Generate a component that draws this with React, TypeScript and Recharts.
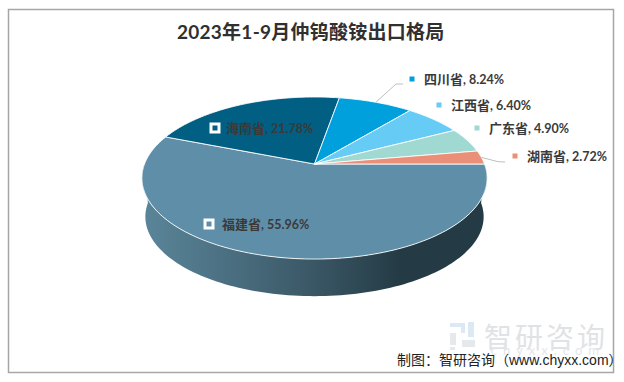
import { PieChart, Pie, Cell } from "recharts";

const provinces = ["福建省", "海南省", "四川省", "江西省", "广东省", "湖南省"];
const shares = [55.96, 21.78, 8.24, 6.4, 4.9, 2.72];
const colors = ["#5F8FA8", "#005F82", "#00A0DC", "#66CCF5", "#A0D8D2", "#EA9079"];

const tableData = provinces.map((name, i) => ({ name, value: shares[i] }));

// marker position of each label
const labelSpots = [
  { x: 209, y: 224, gap: 13 },
  { x: 215, y: 128, gap: 11 },
  { x: 412, y: 79, gap: 12 },
  { x: 439, y: 105, gap: 12 },
  { x: 477, y: 128, gap: 12 },
  { x: 515, y: 156, gap: 12 },
];

const CX = 314.5;
const CY = 164;
const RADIUS = 170;
const SQUASH = 0.4624;
const PERSPECTIVE = 0.173;
const DEPTH = 39;
const BOTTOM_SCALE = 0.98;

const FONT = 'Lato, "Noto Sans CJK SC", sans-serif';

// the pie is a tilted disc, so polar points go through a small perspective
function project(angle: number, cx: number, cy: number, r: number) {
  const rad = (angle * Math.PI) / 180;
  const w = 1 + PERSPECTIVE * Math.sin(rad);
  return {
    x: cx + (r * Math.cos(rad)) / w,
    y: cy - (r * SQUASH * Math.sin(rad)) / w,
  };
}

function arcPoints(from: number, to: number, cx: number, cy: number, r: number) {
  const steps = Math.max(2, Math.ceil(Math.abs(to - from) / 1.5));
  const pts = [];
  for (let i = 0; i <= steps; i++) {
    pts.push(project(from + ((to - from) * i) / steps, cx, cy, r));
  }
  return pts;
}

const toPath = (pts: { x: number; y: number }[]) =>
  pts.map((p, i) => `${i ? "L" : "M"}${p.x.toFixed(2)} ${p.y.toFixed(2)}`).join(" ");

function TiltedSector(props: any) {
  const { cx, cy, outerRadius, startAngle, endAngle, fill } = props;
  const top = arcPoints(startAngle, endAngle, cx, cy, outerRadius);
  const hi = Math.min(startAngle, 0);
  const lo = Math.max(endAngle, -180);
  let side = null;
  if (lo < hi) {
    const upper = arcPoints(hi, lo, cx, cy, outerRadius);
    const lower = arcPoints(lo, hi, cx, cy + DEPTH, outerRadius * BOTTOM_SCALE);
    side = <path d={`${toPath([...upper, ...lower])} Z`} fill="url(#sideShade)" />;
  }
  return (
    <g>
      {side}
      <path
        d={`M${cx} ${cy} ${toPath(top).replace("M", "L")} Z`}
        fill={fill}
        stroke="#fff"
        strokeOpacity={0.85}
        strokeWidth={1}
        strokeLinejoin="round"
      />
    </g>
  );
}

function SliceLabel(props: any) {
  const { cx, cy, outerRadius, midAngle, index } = props;
  const spot = labelSpots[index];
  const edge = project(midAngle, cx, cy, outerRadius);
  let leader = null;
  if (index === 2) {
    leader = `M${edge.x} ${edge.y} L396 84 L403 84`;
  } else if (index === 5) {
    leader = `M${edge.x} ${edge.y} L498 161.7 L505 162`;
  }
  return (
    <g>
      {leader && <path d={leader} fill="none" stroke="#BFBFBF" strokeWidth={1} />}
      <rect x={spot.x - 5.5} y={spot.y - 5.5} width={11} height={11} fill="#fff" />
      <rect x={spot.x - 2.5} y={spot.y - 2.5} width={5} height={5} fill={colors[index]} />
      <text x={spot.x + spot.gap} y={spot.y + 5} fontFamily={FONT} fontWeight={700} fill="#3A3A3A">
        <tspan fontSize={13}>{provinces[index]}</tspan>
        <tspan fontSize={12.5}>{`, ${shares[index].toFixed(2)}%`}</tspan>
      </text>
    </g>
  );
}

export default function App() {
  return (
    <div style={{ position: "absolute", left: 0, top: 0, width: 624, height: 382, background: "#fff" }}>
      <PieChart width={624} height={382} margin={{ top: 0, right: 0, bottom: 0, left: 0 }}>
        <defs>
          <linearGradient id="sideShade" gradientUnits="userSpaceOnUse" x1={143} y1={0} x2={400} y2={0}>
            <stop offset="0%" stopColor="#5A8599" />
            <stop offset="35%" stopColor="#4A6E80" />
            <stop offset="70%" stopColor="#385462" />
            <stop offset="100%" stopColor="#243B45" />
          </linearGradient>
        </defs>
        <rect x={8.5} y={9.5} width={605} height={363} fill="none" stroke="#A6A6A6" strokeWidth={1.5} />
        <text x={177} y={38.5} fontFamily={FONT} fontSize={19} letterSpacing={0.25} fontWeight={600} fill="#303030">
          <tspan fontWeight={700}>2023</tspan>年<tspan fontWeight={700}>1-9</tspan>月仲钨酸铵出口格局
        </text>

        {/* watermark */}
        <g fill="#DCE8F3">
          <rect x={450} y={323} width={15} height={4} />
          <rect x={461} y={327} width={4} height={6} />
          <rect x={468} y={322} width={6} height={15} />
        </g>
        <g fill="#E6E9EC">
          <rect x={450} y={333} width={6} height={12} />
          <rect x={450} y={347} width={5} height={3} />
          <rect x={462} y={340} width={13} height={7} />
        </g>
        <text x={484} y={348} fontFamily={FONT} fontSize={28} letterSpacing={3} fill="#E0E3E6">
          智研咨询
        </text>
        <text x={605} y={355} textAnchor="end" fontFamily={FONT} fontSize={13} letterSpacing={6} fill="#E3E6E9">
          chyxx.com
        </text>

        <Pie
          data={tableData}
          dataKey="value"
          nameKey="name"
          cx={CX}
          cy={CY}
          innerRadius={0}
          outerRadius={RADIUS}
          startAngle={0}
          endAngle={-360}
          paddingAngle={0}
          stroke="none"
          shape={TiltedSector}
          inactiveShape={TiltedSector}
          activeShape={TiltedSector}
          label={SliceLabel}
          labelLine={false}
          isAnimationActive={false}
        >
          {provinces.map((name, i) => (
            <Cell key={name} fill={colors[i]} />
          ))}
        </Pie>

        <text x={397} y={365} fontFamily='"Liberation Sans", "Noto Sans CJK SC", sans-serif' fontSize={14} fill="#222">
          制图：智研咨询（www.chyxx.com）
        </text>
      </PieChart>
    </div>
  );
}
